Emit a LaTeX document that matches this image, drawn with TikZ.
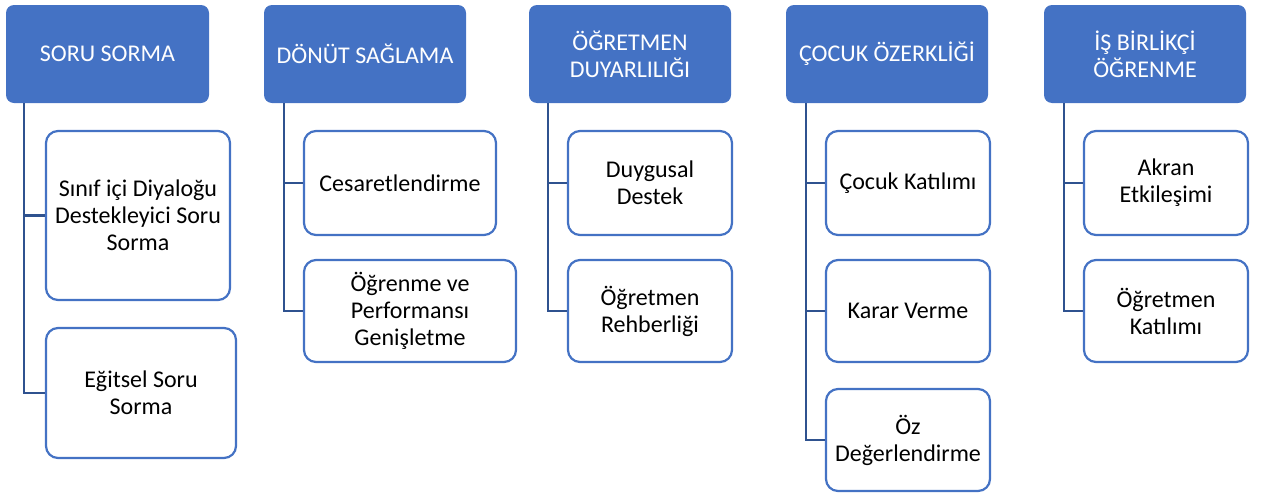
\documentclass[tikz,border=0pt]{standalone}
\usepackage{fontspec}
\setmainfont{Carlito}
\definecolor{hdr}{HTML}{4472C4}
\definecolor{conn}{HTML}{2F528F}
\begin{document}
\begin{tikzpicture}[x=1pt,y=-1pt,
  hbox/.style={draw=none,fill=hdr,rounded corners=8pt,text=white,align=center,inner sep=0pt,font=\fontsize{24}{27}\selectfont},
  cbox/.style={draw=hdr,line width=2.2pt,fill=white,rounded corners=12pt,align=center,inner sep=0pt,font=\fontsize{24}{27}\selectfont},
  link/.style={draw=conn,line width=2.6pt}]
\useasboundingbox (0,0) rectangle (1263,493);
% column 1
\node[hbox,minimum width=203pt,minimum height=98pt] (h1) at (107.5,54) {SORU SORMA};
\node[cbox,minimum width=184pt,minimum height=169pt] (c11) at (138,215.5) {Sınıf içi Diyaloğu\\Destekleyici Soru\\Sorma};
\node[cbox,minimum width=190pt,minimum height=130pt] (c12) at (141,393) {Eğitsel Soru\\Sorma};
\coordinate (t1) at (24,103);
\draw[link] (t1) |- (c11.west);
\draw[link] (t1) |- (c12.west);
% column 2
\node[hbox,minimum width=202pt,minimum height=98pt] (h2) at (365,54) {DÖNÜT SAĞLAMA};
\node[cbox,minimum width=192pt,minimum height=104pt] (c21) at (400,183) {Cesaretlendirme};
\node[cbox,minimum width=212pt,minimum height=102pt] (c22) at (410,311) {Öğrenme ve\\Performansı\\Genişletme};
\coordinate (t2) at (284,103);
\draw[link] (t2) |- (c21.west);
\draw[link] (t2) |- (c22.west);
% column 3
\node[hbox,minimum width=202pt,minimum height=98pt] (h3) at (630,54) {ÖĞRETMEN\\DUYARLILIĞI};
\node[cbox,minimum width=164pt,minimum height=104pt] (c31) at (650,183) {Duygusal\\Destek};
\node[cbox,minimum width=164pt,minimum height=102pt] (c32) at (650,311) {Öğretmen\\Rehberliği};
\coordinate (t3) at (548,103);
\draw[link] (t3) |- (c31.west);
\draw[link] (t3) |- (c32.west);
% column 4
\node[hbox,minimum width=202pt,minimum height=98pt] (h4) at (887,54) {ÇOCUK ÖZERKLİĞİ};
\node[cbox,minimum width=164pt,minimum height=104pt] (c41) at (908,183) {Çocuk Katılımı};
\node[cbox,minimum width=164pt,minimum height=102pt] (c42) at (908,311) {Karar Verme};
\node[cbox,minimum width=164pt,minimum height=102pt] (c43) at (908,440) {Öz\\Değerlendirme};
\coordinate (t4) at (806,103);
\draw[link] (t4) |- (c41.west);
\draw[link] (t4) |- (c42.west);
\draw[link] (t4) |- (c43.west);
% column 5
\node[hbox,minimum width=202pt,minimum height=98pt] (h5) at (1145,54) {İŞ BİRLİKÇİ\\ÖĞRENME};
\node[cbox,minimum width=164pt,minimum height=104pt] (c51) at (1166,183) {Akran\\Etkileşimi};
\node[cbox,minimum width=164pt,minimum height=102pt] (c52) at (1166,311) {Öğretmen\\Katılımı};
\coordinate (t5) at (1064,103);
\draw[link] (t5) |- (c51.west);
\draw[link] (t5) |- (c52.west);
\end{tikzpicture}
\end{document}
